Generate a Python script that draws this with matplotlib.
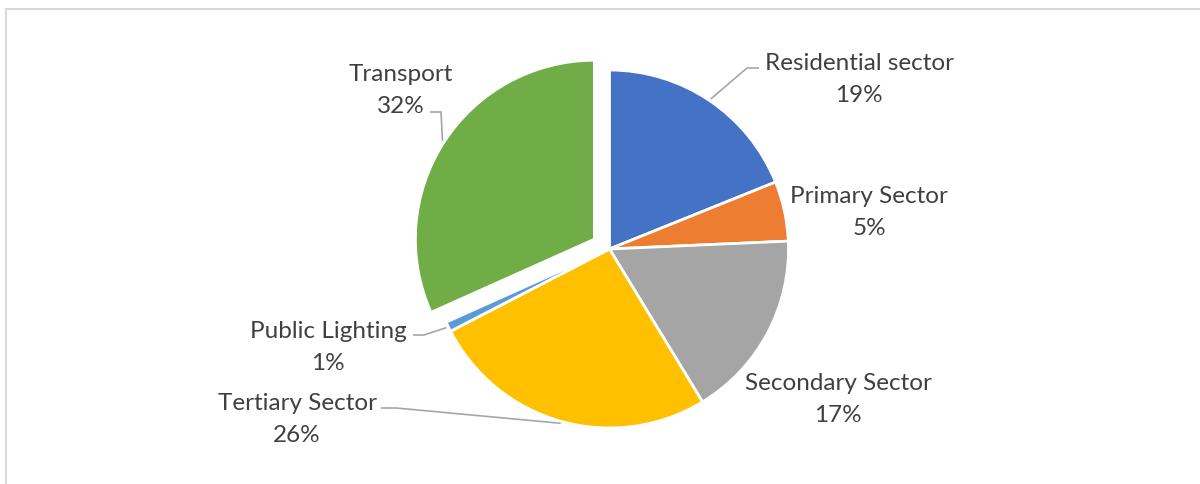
import math
import matplotlib
matplotlib.use("Agg")
import matplotlib.pyplot as plt

# ---- data ----
categories = ["Residential sector", "Primary Sector", "Secondary Sector",
              "Tertiary Sector", "Public Lighting", "Transport"]
values = [18.9, 5.4, 17.0, 26.1, 0.9, 31.7]
colors = ["#4472C4", "#ED7D31", "#A5A5A5", "#FFC000", "#5B9BD5", "#70AD47"]
explode_px = [0, 0, 0, 0, 0, 18]

W, H = 1200, 485
plt.rcParams['font.family'] = ['Lato', 'DejaVu Sans']

fig = plt.figure(figsize=(W / 100, H / 100), dpi=100)
ax = fig.add_axes([0, 0, 1, 1])


def py(y):
    # pixel-from-top to data y
    return H - y


center = (609.5, py(250))
radius = 179
wedges, _ = ax.pie(values, colors=colors, explode=explode_px, startangle=90,
                   counterclock=False, center=center, radius=radius,
                   wedgeprops=dict(edgecolor="white", linewidth=2.0))
ax.set_xlim(0, W)
ax.set_ylim(0, H)
ax.set_aspect('equal')
ax.axis('off')

# label layout: (text centre x, text centre y (px from top), leader: None or (elbow, text-edge))
layout = {
    "Residential sector": ((859, 79.5), ((747, 69), (759, 69))),
    "Primary Sector": ((869, 212.5), None),
    "Secondary Sector": ((838, 399.5), None),
    "Tertiary Sector": ((297, 419.5), ((396, 409), (381, 409))),
    "Public Lighting": ((328, 347.5), ((424, 336), (413, 336))),
    "Transport": ((401, 90.5), ((441, 113), (430, 113))),
}

text_color = "#404040"
line_color = "#A6A6A6"
for w, name, v in zip(wedges, categories, values):
    (tx, ty), leader = layout[name]
    ax.text(tx, py(ty), f"{name}\n{round(v)}%", ha="center", va="center",
            fontsize=17.5, color=text_color, linespacing=1.65)
    if leader is not None:
        mid = math.radians((w.theta1 + w.theta2) / 2)
        cx, cy = w.center
        ax_ = cx + (w.r + 2) * math.cos(mid)
        ay_ = cy + (w.r + 2) * math.sin(mid)
        (ex, ey), (sx, sy) = leader
        ax.plot([ax_, ex, sx], [ay_, py(ey), py(sy)], color=line_color,
                lw=1.2, solid_capstyle="butt")

# outer chart-area border (only top and left visible in crop)
border = "#D9D9D9"
ax.plot([5.5, W], [py(9.5), py(9.5)], color=border, lw=1.5)
ax.plot([5.5, 5.5], [py(9.5), 0], color=border, lw=1.5)

fig.savefig("out.png", dpi=100, facecolor="white")
